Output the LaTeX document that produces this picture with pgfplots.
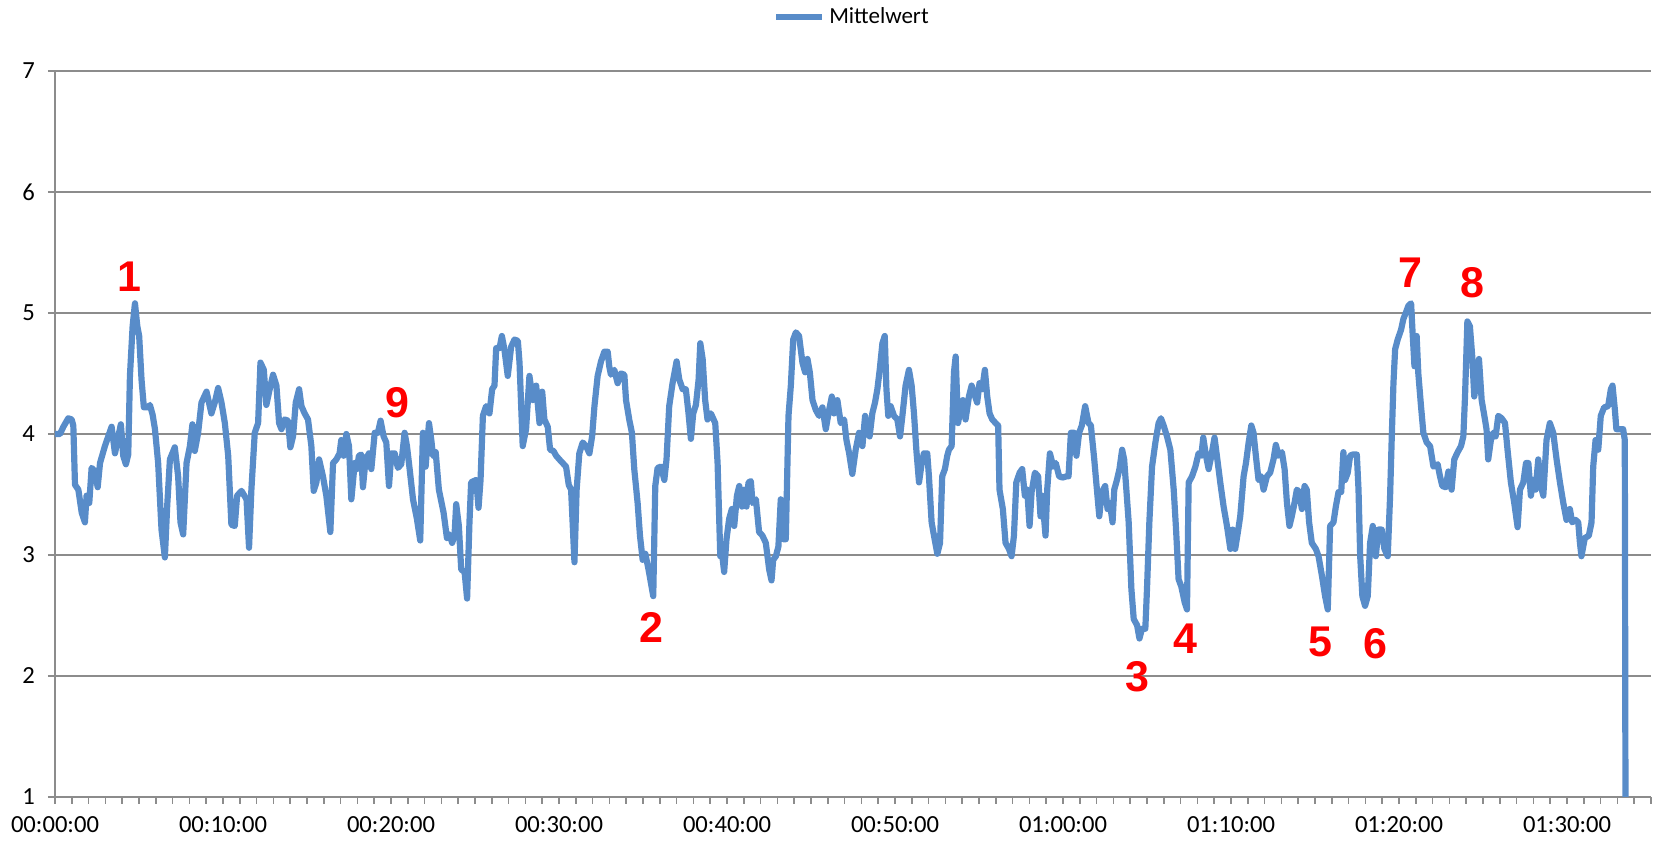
\documentclass[border=0pt]{standalone}
\usepackage{pgfplots}
\pgfplotsset{compat=1.18}
\usepackage{fontspec}
\setmainfont{Carlito}
\newfontfamily\arialb{Liberation Sans}
\definecolor{lineblue}{RGB}{88,140,201}
\definecolor{gridgray}{RGB}{140,140,140}
\begin{document}
\begin{tikzpicture}
\begin{axis}[
  scale only axis, width=798pt, height=363pt,
  xmin=0, xmax=95, ymin=1, ymax=7,
  axis x line*=bottom, axis y line*=left,
  axis line style={gridgray, line width=0.75pt},
  xtick={0,10,20,30,40,50,60,70,80,90},
  xticklabels={00:00:00,00:10:00,00:20:00,00:30:00,00:40:00,00:50:00,01:00:00,01:10:00,01:20:00,01:30:00},
  minor xtick={0,1,...,95},
  ytick={1,2,3,4,5,6,7},
  ymajorgrids, grid style={gridgray, line width=0.75pt},
  tick align=outside,
  major tick length=3.5pt, minor tick length=3.5pt,
  every tick/.style={gridgray, line width=0.75pt},
  ticklabel style={font=\fontsize{12.3}{14}\selectfont},
  xticklabel style={yshift=-2.5pt},
  yticklabel style={xshift=-3pt},
  /pgf/number format/assume math mode=true,
  legend style={at={(0.5,1)}, anchor=center, yshift=27pt, draw=none, fill=none,
    font=\fontsize{11.5}{13}\selectfont, inner sep=0pt},
  legend image code/.code={\draw[#1, line width=3pt] (0pt,0pt) -- (23pt,0pt);},
  clip=false,
]
\addplot[lineblue, line width=3.1pt, line join=round, mark=none] coordinates {
(0,4.00)(0.30,4.00)(0.50,4.06)(0.79,4.13)(0.99,4.12)(1.09,4.07)(1.19,3.58)(1.39,3.54)(1.59,3.35)(1.78,3.27)(1.88,3.49)(2.04,3.43)(2.18,3.72)(2.38,3.69)(2.54,3.56)(2.68,3.76)(2.97,3.90)(3.17,3.98)(3.37,4.06)(3.57,3.84)(3.77,3.98)(3.92,4.08)(4.06,3.82)(4.22,3.75)(4.36,3.83)(4.46,4.48)(4.62,4.89)(4.76,5.08)(4.90,4.89)(5.01,4.81)(5.15,4.45)(5.29,4.22)(5.55,4.22)(5.65,4.24)(5.81,4.16)(5.95,4.04)(6.14,3.76)(6.34,3.21)(6.54,2.98)(6.68,3.41)(6.84,3.79)(7.13,3.89)(7.33,3.65)(7.47,3.27)(7.63,3.17)(7.83,3.76)(8.03,3.90)(8.18,4.08)(8.32,3.86)(8.52,4.01)(8.72,4.26)(9.02,4.35)(9.31,4.17)(9.51,4.26)(9.71,4.38)(9.91,4.26)(10.11,4.09)(10.31,3.82)(10.50,3.25)(10.70,3.24)(10.84,3.49)(11.10,3.53)(11.40,3.46)(11.55,3.06)(11.69,3.54)(11.89,4.01)(12.09,4.09)(12.23,4.59)(12.43,4.53)(12.58,4.24)(12.78,4.37)(12.98,4.49)(13.18,4.40)(13.34,4.09)(13.48,4.04)(13.67,4.12)(13.87,4.11)(14.01,3.89)(14.17,3.98)(14.33,4.26)(14.53,4.37)(14.67,4.23)(14.86,4.17)(15.06,4.12)(15.26,3.90)(15.40,3.53)(15.56,3.60)(15.72,3.79)
(15.95,3.65)(16.15,3.49)(16.39,3.19)(16.55,3.76)(16.75,3.79)(16.94,3.84)(17.04,3.95)(17.18,3.82)(17.34,4.00)(17.50,3.90)(17.64,3.46)(17.84,3.76)(17.97,3.71)(18.09,3.82)(18.23,3.83)(18.33,3.56)(18.49,3.79)(18.69,3.84)(18.83,3.71)(19.03,4.01)(19.22,4.01)(19.38,4.11)(19.56,3.98)(19.72,3.93)(19.88,3.57)(20.02,3.84)(20.22,3.84)(20.41,3.72)(20.61,3.75)(20.81,4.01)(20.95,3.90)(21.11,3.71)(21.31,3.46)(21.54,3.30)(21.74,3.12)(21.90,4.01)(22.06,3.73)(22.26,4.09)(22.40,3.95)(22.50,3.82)(22.66,3.85)(22.85,3.54)(23.13,3.35)(23.33,3.14)(23.48,3.17)(23.64,3.10)(23.78,3.16)(23.88,3.42)(24.04,3.24)(24.18,2.88)(24.38,2.86)(24.53,2.64)(24.67,3.27)(24.77,3.60)(24.91,3.61)(25.07,3.62)(25.21,3.39)(25.33,3.62)(25.47,4.15)(25.66,4.23)(25.86,4.17)(26.02,4.37)(26.16,4.40)(26.26,4.71)(26.46,4.71)(26.60,4.81)(26.75,4.70)(26.95,4.48)(27.15,4.72)(27.35,4.78)(27.55,4.77)(27.65,4.59)(27.84,3.90)(28.04,4.04)(28.24,4.48)(28.44,4.28)(28.64,4.40)(28.84,4.09)(29.00,4.35)(29.13,4.12)(29.33,4.06)(29.47,3.87)(29.67,3.86)(29.83,3.82)(30.02,3.79)(30.22,3.76)(30.42,3.73)(30.58,3.58)(30.72,3.54)(30.92,2.94)(31.05,3.54)(31.21,3.84)(31.41,3.93)(31.61,3.90)
(31.81,3.84)(31.97,3.98)(32.11,4.23)(32.30,4.48)(32.50,4.60)(32.70,4.68)(32.90,4.68)(32.99,4.56)(33.09,4.49)(33.29,4.53)(33.49,4.42)(33.69,4.50)(33.89,4.49)(33.99,4.28)(34.18,4.12)(34.34,4.01)(34.48,3.71)(34.68,3.43)(34.82,3.16)(34.98,2.96)(35.14,3.01)(35.33,2.88)(35.47,2.77)(35.61,2.66)(35.73,3.57)(35.87,3.72)(36.07,3.73)(36.27,3.62)(36.40,3.79)(36.56,4.23)(36.76,4.42)(37.00,4.60)(37.16,4.45)(37.36,4.37)(37.55,4.37)(37.71,4.17)(37.85,3.96)(37.99,4.17)(38.15,4.24)(38.31,4.45)(38.41,4.75)(38.55,4.62)(38.70,4.28)(38.84,4.12)(39.04,4.17)(39.30,4.09)(39.44,3.76)(39.60,2.99)(39.70,3.02)(39.83,2.86)(39.97,3.13)(40.13,3.30)(40.29,3.38)(40.43,3.24)(40.59,3.49)(40.73,3.57)(40.89,3.40)(41.02,3.54)(41.16,3.40)(41.28,3.60)(41.42,3.61)(41.52,3.43)(41.72,3.46)(41.91,3.19)(42.11,3.16)(42.31,3.10)(42.51,2.88)(42.65,2.79)(42.75,2.96)(42.91,2.99)(43.06,3.07)(43.20,3.46)(43.36,3.13)(43.50,3.13)(43.66,4.15)(43.80,4.40)(43.94,4.78)(44.10,4.84)(44.29,4.81)(44.49,4.59)(44.65,4.51)(44.79,4.62)(44.93,4.51)(45.09,4.28)(45.28,4.20)(45.48,4.15)(45.68,4.22)(45.88,4.04)(46.04,4.17)(46.24,4.31)(46.37,4.17)(46.57,4.28)(46.77,4.09)(46.97,4.12)(47.11,3.95)(47.27,3.84)(47.46,3.67)(47.66,3.87)
(47.86,4.01)(48.06,3.90)(48.22,4.15)(48.36,4.04)(48.49,3.98)(48.65,4.17)(48.81,4.26)(48.95,4.37)(49.09,4.53)(49.25,4.75)(49.39,4.81)(49.49,4.37)(49.60,4.15)(49.74,4.23)(49.94,4.15)(50.14,4.12)(50.30,3.98)(50.44,4.15)(50.63,4.40)(50.83,4.53)(50.99,4.40)(51.13,4.17)(51.27,3.87)(51.43,3.60)(51.59,3.76)(51.72,3.84)(51.92,3.84)(52.02,3.65)(52.18,3.27)(52.32,3.16)(52.52,3.01)(52.68,3.10)(52.81,3.65)(52.97,3.71)(53.11,3.82)(53.21,3.87)(53.37,3.90)(53.51,4.51)(53.61,4.64)(53.75,4.09)(53.90,4.20)(54.04,4.28)(54.20,4.12)(54.40,4.31)(54.56,4.40)(54.70,4.34)(54.89,4.26)(55.03,4.42)(55.19,4.37)(55.35,4.53)(55.49,4.31)(55.63,4.17)(55.79,4.12)(55.99,4.09)(56.14,4.07)(56.22,3.54)(56.42,3.38)(56.58,3.10)(56.78,3.05)(56.94,2.99)(57.08,3.16)(57.22,3.60)(57.42,3.68)(57.57,3.71)(57.73,3.49)(57.87,3.54)(58.01,3.24)(58.13,3.52)(58.33,3.68)(58.52,3.65)(58.66,3.32)(58.76,3.49)(58.96,3.16)(59.06,3.54)(59.22,3.84)(59.42,3.73)(59.57,3.76)(59.77,3.65)(59.97,3.64)(60.21,3.65)(60.33,3.65)(60.47,4.01)(60.67,4.01)(60.80,3.82)(60.96,4.01)(61.12,4.07)(61.32,4.23)(61.52,4.09)(61.66,4.07)(61.86,3.79)(62.00,3.57)(62.16,3.32)(62.31,3.52)(62.51,3.57)(62.65,3.38)(62.79,3.43)(62.95,3.27)(63.05,3.54)(63.21,3.62)(63.36,3.71)(63.52,3.87)(63.64,3.79)(63.74,3.60)
(63.91,3.27)(64.07,2.72)(64.21,2.47)(64.41,2.42)(64.55,2.31)(64.70,2.39)(64.90,2.39)(65.00,2.72)(65.14,3.27)(65.30,3.73)(65.50,3.93)(65.69,4.09)(65.83,4.13)(65.99,4.07)(66.19,3.98)(66.39,3.87)(66.59,3.54)(66.73,3.21)(66.88,2.80)(67.04,2.74)(67.24,2.61)(67.38,2.55)(67.48,3.60)(67.68,3.65)(67.88,3.73)(68.07,3.84)(68.23,3.82)(68.35,3.97)(68.51,3.82)(68.67,3.71)(68.83,3.82)(69.02,3.97)(69.16,3.82)(69.36,3.60)(69.56,3.40)(69.76,3.24)(69.96,3.05)(70.10,3.21)(70.25,3.05)(70.41,3.19)(70.55,3.32)(70.75,3.65)(70.89,3.76)(71.05,3.93)(71.21,4.07)(71.34,4.01)(71.48,3.82)(71.64,3.62)(71.80,3.65)(71.94,3.54)(72.14,3.65)(72.33,3.68)(72.53,3.79)(72.67,3.91)(72.83,3.82)(73.03,3.85)(73.19,3.71)(73.33,3.43)(73.48,3.24)(73.62,3.32)(73.78,3.43)(73.92,3.54)(74.06,3.52)(74.22,3.38)(74.38,3.57)(74.51,3.54)(74.65,3.27)(74.81,3.10)(75.05,3.05)(75.21,2.99)(75.41,2.83)(75.60,2.66)(75.76,2.55)(75.90,3.24)(76.10,3.27)(76.24,3.40)(76.40,3.52)(76.56,3.52)(76.69,3.85)(76.79,3.62)(76.95,3.68)(77.09,3.82)(77.23,3.83)(77.49,3.83)(77.59,3.54)(77.69,2.99)(77.82,2.66)(77.98,2.58)(78.14,2.66)(78.28,3.10)(78.44,3.24)(78.62,2.99)(78.77,3.21)(78.97,3.21)(79.13,3.05)(79.33,2.99)(79.47,3.49)(79.57,3.98)(79.67,4.42)(79.77,4.70)(79.92,4.78)
(80.12,4.86)(80.26,4.95)(80.40,5.00)(80.56,5.06)(80.72,5.08)(80.80,4.86)(80.92,4.56)(81.05,4.81)(81.15,4.50)(81.31,4.23)(81.45,4.01)(81.65,3.93)(81.85,3.90)(82.05,3.73)(82.30,3.75)(82.44,3.65)(82.58,3.57)(82.78,3.56)(82.94,3.69)(83.13,3.54)(83.29,3.79)(83.49,3.85)(83.69,3.90)(83.83,3.98)(83.93,4.31)(84.07,4.93)(84.22,4.89)(84.36,4.64)(84.48,4.31)(84.62,4.45)(84.76,4.62)(84.92,4.28)(85.08,4.15)(85.21,4.04)(85.31,3.79)(85.47,3.95)(85.61,4.01)(85.75,3.98)(85.91,4.15)(86.11,4.13)(86.31,4.09)(86.46,3.87)(86.66,3.60)(86.86,3.43)(87.06,3.23)(87.20,3.54)(87.40,3.60)(87.56,3.76)(87.70,3.76)(87.85,3.49)(87.99,3.62)(88.13,3.54)(88.29,3.79)(88.45,3.57)(88.59,3.49)(88.78,3.95)(88.98,4.09)(89.18,4.01)(89.38,3.79)(89.58,3.60)(89.78,3.43)(89.97,3.29)(90.17,3.38)(90.31,3.27)(90.51,3.29)(90.67,3.27)(90.77,3.10)(90.86,2.99)(91.06,3.14)(91.30,3.16)(91.46,3.27)(91.56,3.73)(91.70,3.95)(91.86,3.87)(92.01,4.15)(92.21,4.22)(92.45,4.23)(92.61,4.37)(92.71,4.40)(92.85,4.20)(92.94,4.04)(93.14,4.04)(93.34,4.04)(93.44,3.95)(93.48,1.00)
};
\addlegendentry{Mittelwert}
\begin{scope}[every node/.style={text=red, font=\arialb\bfseries\fontsize{21.5}{21.5}\selectfont, inner sep=0pt}]
\node at (axis cs:4.46,5.30) {1};
\node at (axis cs:35.53,2.40) {2};
\node at (axis cs:64.43,1.99) {3};
\node at (axis cs:67.28,2.31) {4};
\node at (axis cs:75.31,2.28) {5};
\node at (axis cs:78.62,2.27) {6};
\node at (axis cs:80.68,5.33) {7};
\node at (axis cs:84.36,5.25) {8};
\node at (axis cs:20.39,4.26) {9};
\end{scope}
\end{axis}
\pgfresetboundingbox
\path (-27.5pt,-24pt) rectangle (803pt,398.5pt);
\end{tikzpicture}
\end{document}
